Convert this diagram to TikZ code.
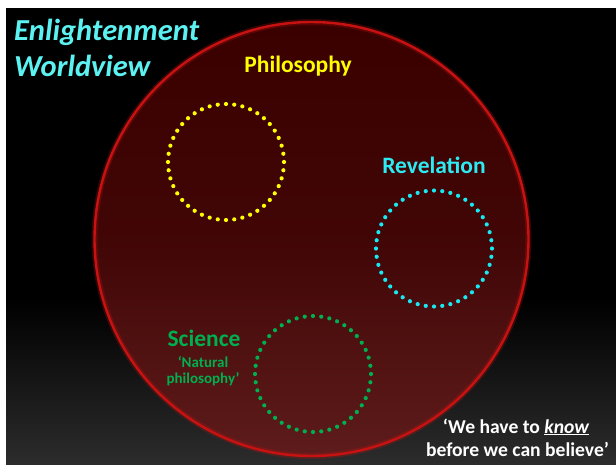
\documentclass[tikz,border=0pt]{standalone}
\usepackage{fontspec}
\setmainfont{Carlito}
\definecolor{titlecyan}{HTML}{5CF2F2}
\definecolor{philyellow}{HTML}{FFFF00}
\definecolor{revcyan}{HTML}{19E8F2}
\definecolor{scigreen}{HTML}{00B050}
\definecolor{rimred}{HTML}{C81212}
\definecolor{filltop}{HTML}{3A0000}
\definecolor{fillbot}{HTML}{5E1C1C}
\definecolor{bggray}{HTML}{2C2C2C}
\tikzset{
  dotring/.style={line width=4.2pt, line cap=round, dash pattern=on 0pt off 8.28pt},
  lbl/.style={anchor=base, inner sep=0pt, font=\bfseries},
}
\begin{document}
\begin{tikzpicture}[x=1pt,y=-1pt]
\useasboundingbox (0,0) rectangle (616,464);
\fill[white] (0,0) rectangle (616,464);
% slide background
\fill[black] (6,8) rectangle (616,300);
\shade[top color=black, bottom color=bggray] (6,299.5) rectangle (616,464);
% big circle
\coordinate (c) at (311.5,239);
\shade[top color=filltop, bottom color=fillbot, middle color=filltop!80!fillbot] (c) circle (217);
\draw[rimred, line width=6pt, opacity=0.25] (c) circle (217);
\draw[rimred, line width=2.4pt] (c) circle (217);
% dotted rings
\draw[dotring, philyellow] (226,162) circle (58);
\draw[dotring, revcyan] (434,248.5) circle (58);
\draw[dotring, scigreen] (313,374) circle (58);
% labels
\node[anchor=base west, inner sep=0pt, font=\bfseries\itshape\fontsize{30.5}{36}\selectfont, text=titlecyan] (t1) at (14,40) {Enlightenment};
\node[anchor=base west, inner sep=0pt, font=\bfseries\itshape\fontsize{30.5}{36}\selectfont, text=titlecyan] (t2) at (14,76) {Worldview};
\node[lbl, font=\bfseries\fontsize{23.5}{27}\selectfont, text=philyellow] (phil) at (298,72) {Philosophy};
\node[lbl, font=\bfseries\fontsize{23.5}{27}\selectfont, text=revcyan!70!titlecyan] (rev) at (434,173) {Revelation};
\node[lbl, font=\bfseries\fontsize{23.5}{27}\selectfont, text=scigreen] (sci) at (204,346) {Science};
\node[lbl, font=\bfseries\fontsize{15}{16}\selectfont, text=scigreen] (nat1) at (203,367) {‘Natural};
\node[lbl, font=\bfseries\fontsize{15}{16}\selectfont, text=scigreen] (nat2) at (203,383) {philosophy’};
\node[lbl, font=\bfseries\fontsize{19.6}{23}\selectfont, text=white] (q1) at (516,433) {‘We have to \underline{\itshape know}};
\node[lbl, font=\bfseries\fontsize{19.6}{23}\selectfont, text=white] (q2) at (517.5,456) {before we can believe’};
\end{tikzpicture}
\end{document}
